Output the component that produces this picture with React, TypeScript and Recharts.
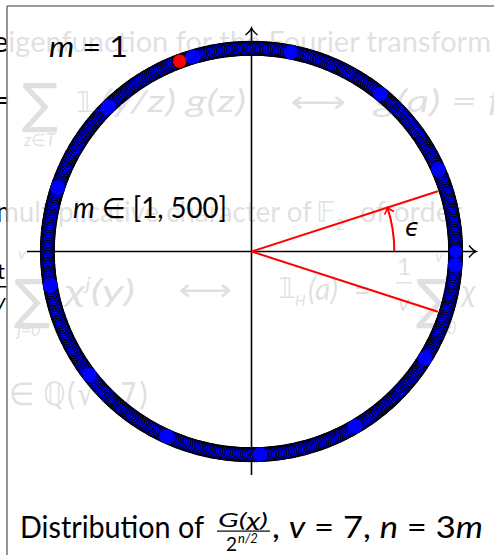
import { ScatterChart, Scatter, XAxis, YAxis, ReferenceLine } from "recharts";

// ring of m = 1..500, position in 1/500 turns (drawn clockwise)
const ringSteps = [
  499, 498, 497, 496, 495, 494, 493, 492, 491, 490, 489, 488, 487, 486, 485, 484, 483, 482, 481, 480,
  479, 478, 477, 476, 475, 474, 473, 472, 471, 470, 469, 468, 467, 466, 465, 464, 463, 462, 461, 460,
  459, 458, 457, 456, 455, 454, 453, 452, 451, 450, 449, 448, 447, 446, 445, 444, 443, 442, 441, 440,
  439, 438, 437, 436, 435, 434, 433, 432, 431, 430, 429, 428, 427, 426, 425, 424, 423, 422, 421, 420,
  419, 418, 417, 416, 415, 414, 413, 412, 411, 410, 409, 408, 407, 406, 405, 404, 403, 402, 401, 400,
  399, 398, 397, 396, 395, 394, 393, 392, 391, 390, 389, 388, 387, 386, 385, 384, 383, 382, 381, 380,
  379, 378, 377, 376, 375, 374, 373, 372, 371, 370, 369, 368, 367, 366, 365, 364, 363, 362, 361, 360,
  359, 358, 357, 356, 355, 354, 353, 352, 351, 350, 349, 348, 347, 346, 345, 344, 343, 342, 341, 340,
  339, 338, 337, 336, 335, 334, 333, 332, 331, 330, 329, 328, 327, 326, 325, 324, 323, 322, 321, 320,
  319, 318, 317, 316, 315, 314, 313, 312, 311, 310, 309, 308, 307, 306, 305, 304, 303, 302, 301, 300,
  299, 298, 297, 296, 295, 294, 293, 292, 291, 290, 289, 288, 287, 286, 285, 284, 283, 282, 281, 280,
  279, 278, 277, 276, 275, 274, 273, 272, 271, 270, 269, 268, 267, 266, 265, 264, 263, 262, 261, 260,
  259, 258, 257, 256, 255, 254, 253, 252, 251, 250, 249, 248, 247, 246, 245, 244, 243, 242, 241, 240,
  239, 238, 237, 236, 235, 234, 233, 232, 231, 230, 229, 228, 227, 226, 225, 224, 223, 222, 221, 220,
  219, 218, 217, 216, 215, 214, 213, 212, 211, 210, 209, 208, 207, 206, 205, 204, 203, 202, 201, 200,
  199, 198, 197, 196, 195, 194, 193, 192, 191, 190, 189, 188, 187, 186, 185, 184, 183, 182, 181, 180,
  179, 178, 177, 176, 175, 174, 173, 172, 171, 170, 169, 168, 167, 166, 165, 164, 163, 162, 161, 160,
  159, 158, 157, 156, 155, 154, 153, 152, 151, 150, 149, 148, 147, 146, 145, 144, 143, 142, 141, 140,
  139, 138, 137, 136, 135, 134, 133, 132, 131, 130, 129, 128, 127, 126, 125, 124, 123, 122, 121, 120,
  119, 118, 117, 116, 115, 114, 113, 112, 111, 110, 109, 108, 107, 106, 105, 104, 103, 102, 101, 100,
  99, 98, 97, 96, 95, 94, 93, 92, 91, 90, 89, 88, 87, 86, 85, 84, 83, 82, 81, 80,
  79, 78, 77, 76, 75, 74, 73, 72, 71, 70, 69, 68, 67, 66, 65, 64, 63, 62, 61, 60,
  59, 58, 57, 56, 55, 54, 53, 52, 51, 50, 49, 48, 47, 46, 45, 44, 43, 42, 41, 40,
  39, 38, 37, 36, 35, 34, 33, 32, 31, 30, 29, 28, 27, 26, 25, 24, 23, 22, 21, 20,
  19, 18, 17, 16, 15, 14, 13, 12, 11, 10, 9, 8, 7, 6, 5, 4, 3, 2, 1, 0,
];

// highlighted values (degrees) and the m = 1 value
const highlightDeg = [78.96, 50.85, 23.8, -3.9, -31.7, -59.5, -87.6, -114.5, -142.5, -170.4, 161.7, 134.6, 106.7];
const firstDeg = 110.6;

// epsilon wedge
const epsilonDeg = 18;
const rayLen = 0.96;
const arcRadius = 0.7;

const DOMAIN: [number, number] = [-1.1, 1.1];

const toXY = (deg: number, r = 1) => ({
  x: r * Math.cos((deg * Math.PI) / 180),
  y: r * Math.sin((deg * Math.PI) / 180),
});

const ringData = ringSteps.map((s) => toXY((s * 360) / 500));
const highlightData = highlightDeg.map((d) => toXY(d));
const firstData = [toXY(firstDeg)];
const rayUp = toXY(epsilonDeg, rayLen);
const rayDown = toXY(-epsilonDeg, rayLen);

const RingDot = (p: any) => (
  <circle cx={p.cx} cy={p.cy} r={7} fill="#0000ff" stroke="#000" strokeWidth={1.1} />
);
const HighlightDot = (p: any) => <circle cx={p.cx} cy={p.cy} r={7.2} fill="#0000ff" />;
const FirstDot = (p: any) => (
  <circle cx={p.cx} cy={p.cy} r={7} fill="#ff0000" stroke="#000" strokeWidth={0.6} />
);

// axis line with an open arrow at the positive end
const ArrowAxis = (p: any) => {
  const { x1, y1, x2, y2 } = p;
  const horiz = Math.abs(y1 - y2) < 0.5;
  let head;
  if (horiz) {
    const tx = Math.max(x1, x2);
    head = `M${tx - 7},${y1 - 6} Q${tx - 3},${y1 - 1} ${tx},${y1} Q${tx - 3},${y1 + 1} ${tx - 7},${y1 + 6}`;
  } else {
    const ty = Math.min(y1, y2);
    head = `M${x1 - 6},${ty + 7} Q${x1 - 1},${ty + 3} ${x1},${ty} Q${x1 + 1},${ty + 3} ${x1 + 6},${ty + 7}`;
  }
  return (
    <g>
      <line x1={x1} y1={y1} x2={x2} y2={y2} stroke="#000" strokeWidth={1.6} />
      <path d={head} fill="none" stroke="#000" strokeWidth={1.4} />
    </g>
  );
};

// arc from the x axis up to epsilon, with an arrow head
const EpsilonArc = (p: any) => {
  const { x1, y1, x2 } = p;
  const r = x2 - x1;
  const a = (epsilonDeg * Math.PI) / 180;
  const ex = x1 + r * Math.cos(a);
  const ey = y1 - r * Math.sin(a);
  const bx = Math.sin(a);
  const by = Math.cos(a);
  const nx = Math.cos(a);
  const ny = -Math.sin(a);
  const head = `M${ex + 6 * bx + 5 * nx},${ey + 6 * by + 5 * ny} Q${ex + 2 * bx + nx},${ey + 2 * by + ny} ${ex},${ey} Q${ex + 2 * bx - nx},${ey + 2 * by - ny} ${ex + 6 * bx - 5 * nx},${ey + 6 * by - 5 * ny}`;
  return (
    <g>
      <path d={`M${x1 + r},${y1} A${r},${r} 0 0 0 ${ex},${ey}`} fill="none" stroke="#ff0000" strokeWidth={2} />
      <path d={head} fill="none" stroke="#ff0000" strokeWidth={1.5} />
    </g>
  );
};

const FONT = "Lato, 'DejaVu Sans', sans-serif";
const MATH = "'DejaVu Sans', sans-serif";

// slide text sitting behind the popup
const SlideText = () => (
  <g fill="#000" fontFamily={FONT}>
    <text x={-7} y={52} fontSize={29} textLength={498} lengthAdjust="spacingAndGlyphs">
      eigenfunction for the Fourier transform
    </text>
    <text x={-6} y={110} fontSize={28}>=</text>
    <text x={22} y={122} fontSize={54} fontFamily={MATH}>∑</text>
    <text x={24} y={146} fontSize={17} fontStyle="italic">z∈T</text>
    <text x={76} y={112} fontSize={28} fontFamily={MATH}>𝟙</text>
    <text x={93} y={118} fontSize={15} fontStyle="italic">T</text>
    <text x={101} y={112} fontSize={30} fontStyle="italic" textLength={145} lengthAdjust="spacingAndGlyphs">
      (y/z) g(z)
    </text>
    <text x={290} y={112} fontSize={30} fontFamily={MATH} textLength={56} lengthAdjust="spacingAndGlyphs">⟷</text>
    <text x={374} y={112} fontSize={30} fontStyle="italic" textLength={128} lengthAdjust="spacingAndGlyphs">
      ĝ(a) = f
    </text>
    <text x={-4} y={222} fontSize={29} textLength={316} lengthAdjust="spacingAndGlyphs">
      multiplicative character of
    </text>
    <text x={316} y={222} fontSize={29} fontFamily={MATH}>𝔽</text>
    <text x={336} y={230} fontSize={15}>2ⁿ</text>
    <text x={360} y={222} fontSize={29}>of order</text>
    <text x={-3} y={279} fontSize={22}>t</text>
    <rect x={-3} y={286} width={10} height={1.5} />
    <text x={-5} y={309} fontSize={22} fontStyle="italic">y</text>
    <text x={18} y={259} fontSize={16} fontStyle="italic">v</text>
    <text x={14} y={318} fontSize={54} fontFamily={MATH}>∑</text>
    <text x={17} y={336} fontSize={17} fontStyle="italic">j=0</text>
    <text x={65} y={302} fontSize={30} fontStyle="italic" textLength={70} lengthAdjust="spacingAndGlyphs">
      χ<tspan dy={-12} fontSize={17}>j</tspan>
      <tspan dy={12}>(y)</tspan>
    </text>
    <text x={178} y={300} fontSize={30} fontFamily={MATH} textLength={54} lengthAdjust="spacingAndGlyphs">⟷</text>
    <text x={278} y={298} fontSize={28} fontFamily={MATH}>𝟙</text>
    <text x={295} y={306} fontSize={15} fontStyle="italic">H</text>
    <text x={308} y={300} fontSize={30} fontStyle="italic">(a)</text>
    <text x={354} y={300} fontSize={28}>=</text>
    <text x={397} y={275} fontSize={24}>1</text>
    <rect x={396} y={282} width={16} height={1.5} />
    <text x={398} y={311} fontSize={24} fontStyle="italic">v</text>
    <text x={435} y={262} fontSize={16} fontStyle="italic">v</text>
    <text x={416} y={318} fontSize={54} fontFamily={MATH}>∑</text>
    <text x={433} y={334} fontSize={17} fontStyle="italic">j=0</text>
    <text x={462} y={302} fontSize={30} fontStyle="italic">χ</text>
    <text x={9} y={405} fontSize={32} fontFamily={MATH} textLength={140} lengthAdjust="spacingAndGlyphs">
      ∈ ℚ(√−7)
    </text>
  </g>
);

const Popup = () => (
  <svg width={494} height={555} style={{ position: "absolute", left: 0, top: 0 }}>
    <rect width={494} height={555} fill="#fff" />
    <SlideText />
    <rect x={7} y={6} width={490} height={552} fill="#fff" fillOpacity={0.88} />
    <line x1={7} y1={6} x2={494} y2={6} stroke="#7a7a7a" strokeWidth={1.6} />
    <line x1={7} y1={6} x2={7} y2={555} stroke="#7a7a7a" strokeWidth={1.6} />
  </svg>
);

const Labels = () => (
  <svg width={494} height={555} style={{ position: "absolute", left: 0, top: 0, pointerEvents: "none" }}>
    <g fill="#000" fontFamily={FONT}>
      <text x={49} y={57} fontSize={28} textLength={79} lengthAdjust="spacingAndGlyphs">
        <tspan fontStyle="italic">m</tspan> = 1
      </text>
      <text x={73} y={218} fontSize={28} textLength={154} lengthAdjust="spacingAndGlyphs">
        <tspan fontStyle="italic">m</tspan> ∈ [1, 500]
      </text>
      <text x={405} y={236} fontSize={24} fontFamily={MATH} fontStyle="italic">ϵ</text>

      <text x={20} y={538} fontSize={31} textLength={184} lengthAdjust="spacingAndGlyphs">
        Distribution of
      </text>
      <text x={218} y={527} fontSize={19} fontStyle="italic" textLength={50} lengthAdjust="spacingAndGlyphs">
        G(χ)
      </text>
      <rect x={217} y={530.5} width={53} height={1.2} />
      <text x={226} y={551} fontSize={19}>2</text>
      <text x={238} y={543} fontSize={13} fontStyle="italic">n/2</text>
      <text x={272} y={538} fontSize={31} textLength={211} lengthAdjust="spacingAndGlyphs">
        , <tspan fontStyle="italic">v</tspan> = 7, <tspan fontStyle="italic">n</tspan> = 3<tspan fontStyle="italic">m</tspan>
      </text>
    </g>
  </svg>
);

export default function App() {
  return (
    <div style={{ position: "absolute", left: 0, top: 0, width: 494, height: 555, overflow: "hidden" }}>
      <Popup />
      <div style={{ position: "absolute", left: 0, top: 0 }}>
        <ScatterChart width={494} height={555} margin={{ top: 28, right: 18, bottom: 80, left: 27 }}>
          <XAxis type="number" dataKey="x" domain={DOMAIN} hide allowDataOverflow />
          <YAxis type="number" dataKey="y" domain={DOMAIN} hide allowDataOverflow />
          <ReferenceLine y={0} shape={ArrowAxis} />
          <ReferenceLine x={0} shape={ArrowAxis} />
          <ReferenceLine
            segment={[{ x: 0, y: 0 }, rayUp]}
            stroke="#ff0000"
            strokeWidth={2}
          />
          <ReferenceLine
            segment={[{ x: 0, y: 0 }, rayDown]}
            stroke="#ff0000"
            strokeWidth={2}
          />
          <ReferenceLine segment={[{ x: 0, y: 0 }, { x: arcRadius, y: 0 }]} shape={EpsilonArc} />
          <Scatter data={ringData} shape={RingDot} isAnimationActive={false} />
          <Scatter data={firstData} shape={FirstDot} isAnimationActive={false} />
          <Scatter data={highlightData} shape={HighlightDot} isAnimationActive={false} />
        </ScatterChart>
      </div>
      <Labels />
    </div>
  );
}
